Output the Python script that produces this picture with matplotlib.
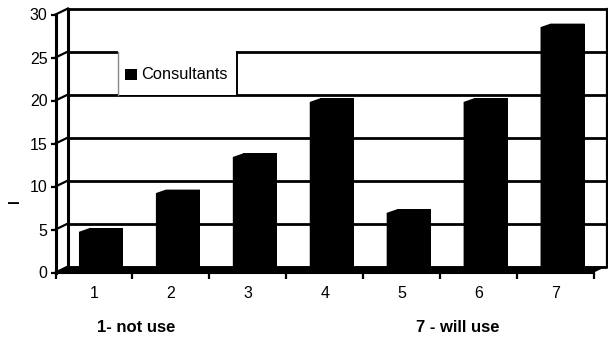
import matplotlib
matplotlib.use("Agg")
import matplotlib.pyplot as plt
from matplotlib.patches import Rectangle

plt.rcParams['font.family'] = ['Liberation Sans', 'DejaVu Sans']

categories = ['1', '2', '3', '4', '5', '6', '7']
values = [4.5, 9.0, 13.2, 19.6, 6.7, 19.6, 28.3]
series_name = 'Consultants'
yticks = [0, 5, 10, 15, 20, 25, 30]

W, H = 608, 339
fig = plt.figure(figsize=(W / 100, H / 100), dpi=100)
fig.patch.set_facecolor('white')

# front plane of the 3d box, in pixels
left, right, bottom, top = 55.5, 594, 272.5, 14.5
ax = fig.add_axes([left / W, 1 - bottom / H, (right - left) / W, (bottom - top) / H])
n = len(categories)
xs = list(range(1, n + 1))
ax.set_xlim(0.5, n + 0.5)
ax.set_ylim(0, 30)
ax.patch.set_alpha(0)

# pixel -> data units
px_x = (right - left) / n
px_y = (bottom - top) / 30.0
def dx(p):
    return p / px_x
def dy(p):
    return p / px_y

# depth of back wall
wpx, wpy = 12.5, 6.0
wx, wy = dx(wpx), dy(wpy)
lw_grid = 2.0

# back wall gridlines + diagonals on the side
for v in yticks:
    ax.plot([0.5 + wx, n + 0.5 + wx], [v + wy, v + wy], color='black', lw=lw_grid,
            clip_on=False, solid_capstyle='butt', zorder=1)
    ax.plot([0.5, 0.5 + wx], [v, v + wy], color='black', lw=1.6, clip_on=False, zorder=1)
ax.plot([0.5 + wx, 0.5 + wx], [wy, 30 + wy], color='black', lw=2.2, clip_on=False, zorder=1)
ax.plot([n + 0.5 + wx, n + 0.5 + wx], [wy, 30 + wy], color='black', lw=1.6, clip_on=False, zorder=1)

# floor
ax.fill([0.5, n + 0.5, n + 0.5 + wx, 0.5 + wx], [0, 0, wy, wy], color='black',
        lw=0, clip_on=False, zorder=3)

# bars: front face, back face and the sloped top
bw = dx(34)
fx, fy = dx(2), dy(2)
bx, by = dx(10), dy(3.5)
ax.bar([x + fx for x in xs], values, width=bw, bottom=fy, color='black', lw=0, zorder=4, clip_on=False)
ax.bar([x + fx + bx for x in xs], values, width=bw, bottom=fy + by, color='black', lw=0, zorder=4, clip_on=False)
for x, v in zip(xs, values):
    x0 = x + fx - bw / 2
    x1 = x + fx + bw / 2
    t = v + fy
    ax.fill([x0, x0 + bx, x1 + bx, x1 + bx, x1, x0], [t, t + by, t + by, fy + by, fy, fy],
            color='black', lw=0, zorder=4, clip_on=False)

# axes
for s in ['top', 'right']:
    ax.spines[s].set_visible(False)
ax.spines['left'].set_linewidth(2.2)
ax.spines['bottom'].set_linewidth(1.5)
ax.spines['left'].set_zorder(5)
ax.set_yticks(yticks)
ax.set_yticklabels([str(v) for v in yticks], fontsize=11.5)
ax.tick_params(axis='y', direction='out', length=3.6, width=1.6, pad=2.2)
ax.set_xticks([i + 0.5 for i in range(n + 1)])
ax.set_xticklabels([''] * (n + 1))
ax.tick_params(axis='x', which='major', direction='out', length=4.5, width=1.6)
ax.set_xticks(xs, minor=True)
ax.set_xticklabels(categories, minor=True, fontsize=11.5)
ax.tick_params(axis='x', which='minor', length=0, pad=9.5)

# legend box between the 25 and 20 gridlines of the back wall
lx0, lx1 = 118, 237
ly0 = bottom - 25 * px_y - wpy
ly1 = bottom - 20 * px_y - wpy
fig.patches.append(Rectangle((lx0 / W, 1 - ly1 / H), (lx1 - lx0) / W, (ly1 - ly0) / H,
                             transform=fig.transFigure, facecolor='white', edgecolor='none', zorder=0.5))
fig.add_artist(plt.Line2D([lx0 / W, lx0 / W], [1 - ly1 / H, 1 - ly0 / H], color='#888888', lw=1.0))
fig.add_artist(plt.Line2D([lx1 / W, lx1 / W], [1 - ly1 / H, 1 - ly0 / H], color='black', lw=1.4))
fig.patches.append(Rectangle((125 / W, 1 - 80 / H), 12 / W, 11 / H, transform=fig.transFigure,
                             facecolor='black', edgecolor='none'))
fig.text(141 / W, 1 - 74.5 / H, series_name, fontsize=11.8, ha='left', va='center')

# axis labels
fig.text(15 / W, 1 - 201 / H, 'l', fontsize=10, fontweight='bold', rotation=90, ha='center', va='center')
fig.text(136 / W, 1 - 327 / H, '1- not use', fontsize=12, fontweight='bold', ha='center', va='center')
fig.text(458 / W, 1 - 327 / H, '7 - will use', fontsize=12, fontweight='bold', ha='center', va='center')

fig.savefig('out.png', dpi=100)
